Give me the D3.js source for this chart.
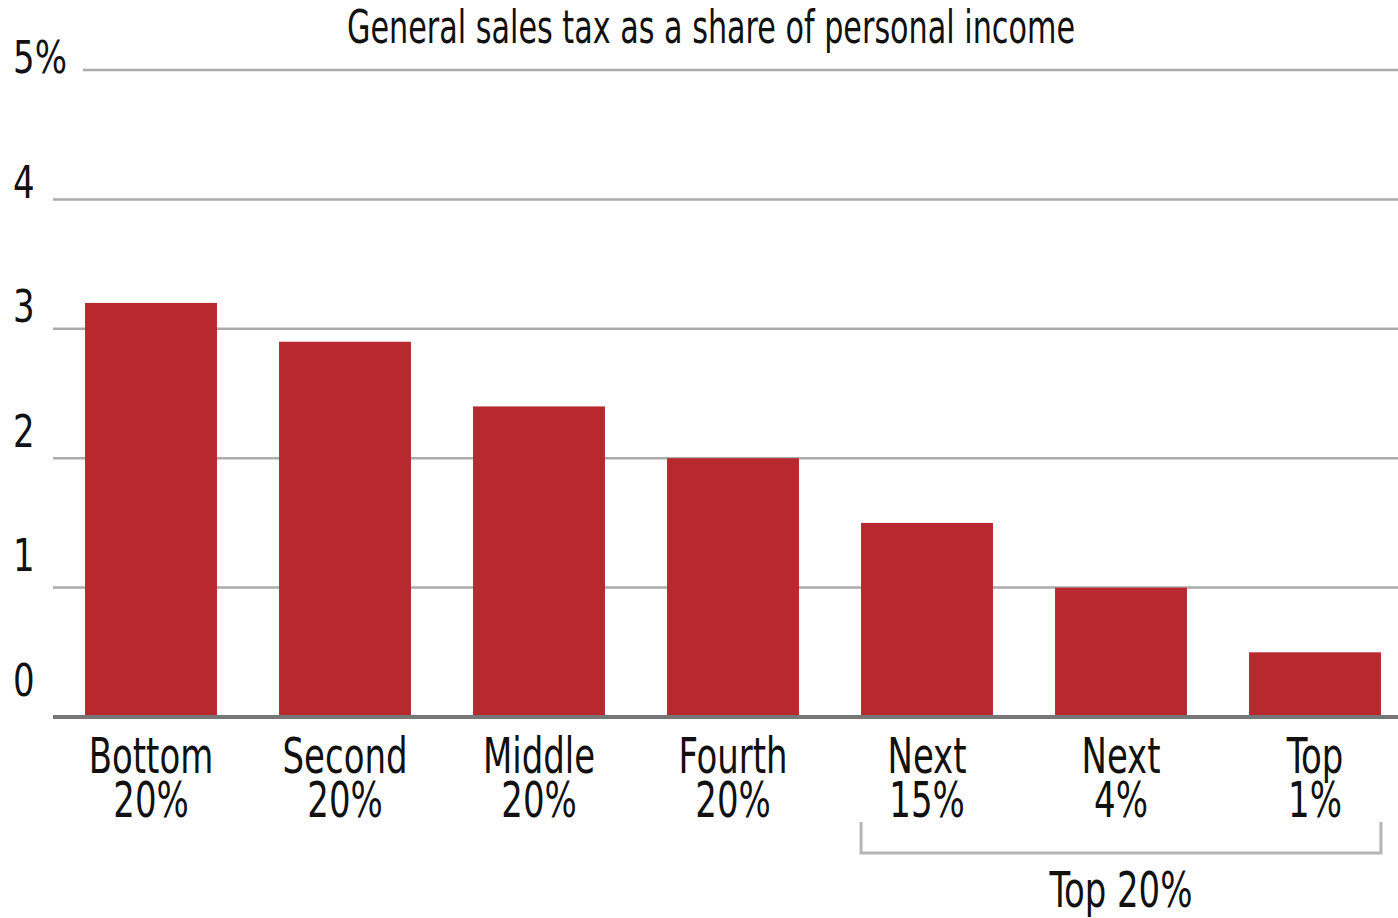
<!DOCTYPE html>
<html>
<head>
<meta charset="utf-8">
<script src="https://cdn.jsdelivr.net/npm/d3@7"></script>
<style>
  html, body { margin: 0; padding: 0; background: #fff; }
  svg { display: block; }
  text { font-family: "Liberation Sans Narrow", "Arial Narrow", "DejaVu Sans Condensed", sans-serif; fill: #111; }
</style>
</head>
<body>
<svg id="chart" width="1398" height="918"></svg>
<script>
// Income groups (two-line labels) and sales tax as % of personal income
const groupLine1 = ["Bottom", "Second", "Middle", "Fourth", "Next", "Next", "Top"];
const groupLine2 = ["20%", "20%", "20%", "20%", "15%", "4%", "1%"];
const salesTaxShare = [3.2, 2.9, 2.4, 2.0, 1.5, 1.0, 0.5];
const yTicks = [0, 1, 2, 3, 4, 5];
const yTickLabels = ["0", "1", "2", "3", "4", "5%"];
const bracketGroups = ["Next 15%", "Top 1%"];
const bracketLabel = "Top 20%";
const titleText = "General sales tax as a share of personal income";

const categories = groupLine1.map((d, i) => d + " " + groupLine2[i]);

const W = 1398, H = 918;
const svg = d3.select("#chart");

// horizontal squeeze applied to labels for a condensed type look
const squeeze = 0.77;

const x = d3.scaleBand()
  .domain(categories)
  .range([54, 1412])
  .paddingInner(0.32)
  .paddingOuter(0.16);

const y = d3.scaleLinear().domain([0, 5]).range([717, 70]);
// tick numerals sit on their own slightly compressed scale beside the grid
const yLabel = d3.scaleLinear().domain([0, 5]).range([696, 73]);

// gridlines
svg.append("g")
  .selectAll("line")
  .data(yTicks.filter(t => t > 0))
  .join("line")
  .attr("x1", d => d === 5 ? 83 : 53)
  .attr("x2", W)
  .attr("y1", d => y(d))
  .attr("y2", d => y(d))
  .attr("stroke", "#ababab")
  .attr("stroke-width", 2.5);

// bars
svg.append("g")
  .selectAll("rect")
  .data(salesTaxShare)
  .join("rect")
  .attr("x", (d, i) => x(categories[i]))
  .attr("width", x.bandwidth())
  .attr("y", d => y(d))
  .attr("height", d => y(0) - y(d))
  .attr("fill", "#b8282f");

// baseline
svg.append("line")
  .attr("x1", 53).attr("x2", W)
  .attr("y1", y(0)).attr("y2", y(0))
  .attr("stroke", "#777")
  .attr("stroke-width", 4);

// y tick labels
svg.append("g")
  .selectAll("text")
  .data(yTicks)
  .join("text")
  .attr("transform", d => `translate(13,${yLabel(d)}) scale(0.84,1)`)
  .attr("font-size", 45)
  .text((d, i) => yTickLabels[i]);

// category labels
const cat = svg.append("g")
  .selectAll("text")
  .data(categories)
  .join("text")
  .attr("text-anchor", "middle")
  .attr("font-size", 49)
  .attr("transform", d => `translate(${x(d) + x.bandwidth() / 2},0) scale(${squeeze},1)`);
cat.append("tspan").attr("x", 0).attr("y", 773).text((d, i) => groupLine1[i]);
cat.append("tspan").attr("x", 0).attr("y", 817).text((d, i) => groupLine2[i]);

// bracket grouping the top 20%
const bx0 = x(bracketGroups[0]), bx1 = x(bracketGroups[1]) + x.bandwidth();
svg.append("path")
  .attr("d", `M${bx0},822V853H${bx1}V822`)
  .attr("fill", "none")
  .attr("stroke", "#b5b5b5")
  .attr("stroke-width", 3);
svg.append("text")
  .attr("transform", `translate(${(bx0 + bx1) / 2},907) scale(${squeeze},1)`)
  .attr("text-anchor", "middle")
  .attr("font-size", 49)
  .text(bracketLabel);

// title
svg.append("text")
  .attr("x", 711)
  .attr("y", 43)
  .attr("text-anchor", "middle")
  .attr("font-size", 46)
  .attr("textLength", 728)
  .attr("lengthAdjust", "spacingAndGlyphs")
  .text(titleText);
</script>
</body>
</html>
